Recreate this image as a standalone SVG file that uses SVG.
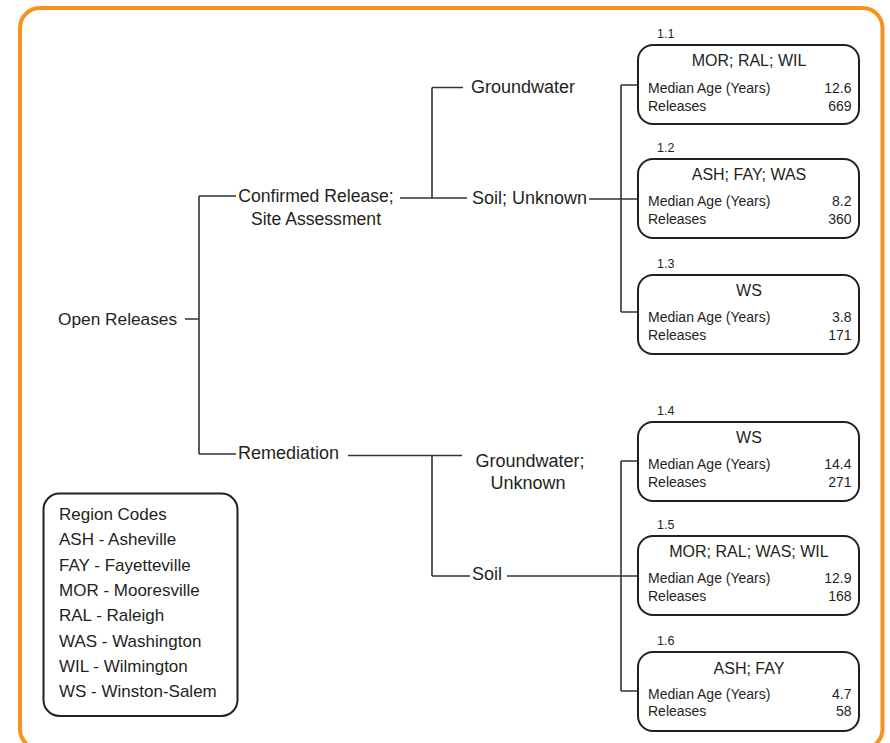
<svg xmlns="http://www.w3.org/2000/svg" width="890" height="743" viewBox="0 0 890 743">
  <style>
    .frame { fill: none; stroke: #f7941d; stroke-width: 4; }
    .box { fill: #ffffff; stroke: #231f20; stroke-width: 2; }
    .wire { fill: none; stroke: #333333; stroke-width: 1.6; }
    text { font-family: "Liberation Sans", Arial, sans-serif; fill: #231f20; }
    .lbl { font-size: 18px; }
    .ttl { font-size: 16px; text-anchor: middle; }
    .row { font-size: 14px; }
    .val { font-size: 14px; text-anchor: end; }
    .num { font-size: 12.5px; }
    .key { font-size: 17px; }
  </style>

  <rect width="890" height="743" fill="#ffffff"/>
  <rect class="frame" x="20" y="8" width="862.5" height="741" rx="20" ry="20"/>

  <!-- connectors -->
  <g id="connectors">
    <path class="wire" d="M185 319 H199 M199 196 V454 M199 196 H236 M199 454 H236"/>
    <path class="wire" d="M400 198 H432 M432 87.5 V198 M432 87.5 H463 M432 198 H467"/>
    <path class="wire" d="M589 199 H638 M621 85 V312 M621 85 H638 M621 312 H638"/>
    <path class="wire" d="M348 455.5 H462 M432 455.5 V576 M432 576 H470"/>
    <path class="wire" d="M507 576 H638 M621 461 V691 M621 461 H638 M621 691 H638"/>
  </g>

  <!-- tree labels -->
  <g id="open-releases"><text class="lbl" x="58" y="325" style="font-size:17.3px">Open Releases</text></g>
  <g id="confirmed-release" style="font-size:17.6px">
    <text x="316" y="202" text-anchor="middle">Confirmed Release;</text>
    <text x="316" y="225" text-anchor="middle">Site Assessment</text>
  </g>
  <g id="remediation"><text class="lbl" x="238" y="459">Remediation</text></g>
  <g id="groundwater-1"><text class="lbl" x="471" y="93">Groundwater</text></g>
  <g id="soil-unknown"><text class="lbl" x="472" y="204">Soil; Unknown</text></g>
  <g id="groundwater-unknown">
    <text class="lbl" x="530" y="466.5" text-anchor="middle">Groundwater;</text>
    <text class="lbl" x="528" y="488.5" text-anchor="middle">Unknown</text>
  </g>
  <g id="soil"><text class="lbl" x="472" y="579.5">Soil</text></g>

  <!-- result boxes -->
  <g id="box-1-1" transform="translate(638,45)">
    <text class="num" x="19" y="-7.5">1.1</text>
    <rect class="box" x="0" y="0" width="221" height="79" rx="15"/>
    <text class="ttl" x="111" y="21">MOR; RAL; WIL</text>
    <text class="row" x="10" y="48">Median Age (Years)</text>
    <text class="val" x="213.5" y="48">12.6</text>
    <text class="row" x="10" y="65.5">Releases</text>
    <text class="val" x="213.5" y="65.5">669</text>
  </g>
  <g id="box-1-2" transform="translate(638,159)">
    <text class="num" x="19" y="-7.5">1.2</text>
    <rect class="box" x="0" y="0" width="221" height="79" rx="15"/>
    <text class="ttl" x="111" y="21">ASH; FAY; WAS</text>
    <text class="row" x="10" y="46.5">Median Age (Years)</text>
    <text class="val" x="213.5" y="46.5">8.2</text>
    <text class="row" x="10" y="64.5">Releases</text>
    <text class="val" x="213.5" y="64.5">360</text>
  </g>
  <g id="box-1-3" transform="translate(638,275)">
    <text class="num" x="19" y="-7.5">1.3</text>
    <rect class="box" x="0" y="0" width="221" height="79" rx="15"/>
    <text class="ttl" x="111" y="21">WS</text>
    <text class="row" x="10" y="46.5">Median Age (Years)</text>
    <text class="val" x="213.5" y="46.5">3.8</text>
    <text class="row" x="10" y="64.5">Releases</text>
    <text class="val" x="213.5" y="64.5">171</text>
  </g>
  <g id="box-1-4" transform="translate(638,422)">
    <text class="num" x="19" y="-7.5">1.4</text>
    <rect class="box" x="0" y="0" width="221" height="79" rx="15"/>
    <text class="ttl" x="111" y="21">WS</text>
    <text class="row" x="10" y="47">Median Age (Years)</text>
    <text class="val" x="213.5" y="47">14.4</text>
    <text class="row" x="10" y="64.5">Releases</text>
    <text class="val" x="213.5" y="64.5">271</text>
  </g>
  <g id="box-1-5" transform="translate(638,536)">
    <text class="num" x="19" y="-7.5">1.5</text>
    <rect class="box" x="0" y="0" width="221" height="79" rx="15"/>
    <text class="ttl" x="111" y="20.5">MOR; RAL; WAS; WIL</text>
    <text class="row" x="10" y="47">Median Age (Years)</text>
    <text class="val" x="213.5" y="47">12.9</text>
    <text class="row" x="10" y="64.5">Releases</text>
    <text class="val" x="213.5" y="64.5">168</text>
  </g>
  <g id="box-1-6" transform="translate(638,652)">
    <text class="num" x="19" y="-7.5">1.6</text>
    <rect class="box" x="0" y="0" width="221" height="79" rx="15"/>
    <text class="ttl" x="111" y="21.5">ASH; FAY</text>
    <text class="row" x="10" y="46.5">Median Age (Years)</text>
    <text class="val" x="213.5" y="46.5">4.7</text>
    <text class="row" x="10" y="64">Releases</text>
    <text class="val" x="213.5" y="64">58</text>
  </g>

  <!-- legend -->
  <g id="region-codes">
    <rect class="box" x="43.5" y="493.5" width="194" height="222.5" rx="16"/>
    <text class="key" x="59" y="520">Region Codes</text>
    <text class="key" x="59" y="545.3">ASH - Asheville</text>
    <text class="key" x="59" y="570.6">FAY - Fayetteville</text>
    <text class="key" x="59" y="595.9">MOR - Mooresville</text>
    <text class="key" x="59" y="621.2">RAL - Raleigh</text>
    <text class="key" x="59" y="646.5">WAS - Washington</text>
    <text class="key" x="59" y="671.8">WIL - Wilmington</text>
    <text class="key" x="59" y="697">WS - Winston-Salem</text>
  </g>
</svg>
